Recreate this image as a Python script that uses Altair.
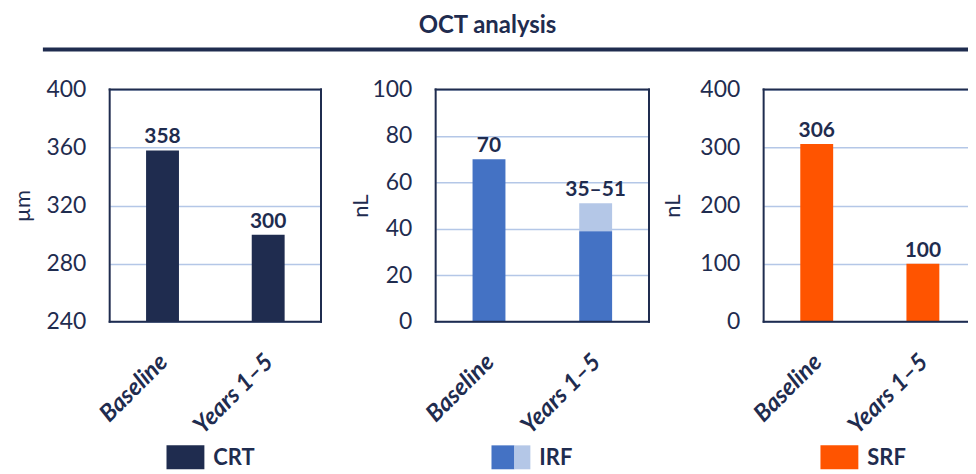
import altair as alt
import pandas as pd

# ---- data ----
categories = ["Baseline", "Years 1–5"]
crt_values = [358, 300]
crt_labels = ["358", "300"]
irf_dark = [70, 39]
irf_light_top = [70, 51]
irf_labels = ["70", "35–51"]
srf_values = [306, 100]
srf_labels = ["306", "100"]

crt_ticks = [240, 280, 320, 360, 400]
irf_ticks = [0, 20, 40, 60, 80, 100]
srf_ticks = [0, 100, 200, 300, 400]

chart_title = "OCT analysis"

NAVY = "#1F2C4F"
IRF_BLUE = "#4472C4"
IRF_LIGHT = "#B4C7E7"
SRF_ORANGE = "#FF5400"
GRID = "#B4C7E7"
FONT = "Lato"
H = 233


def x_enc(xrange=None):
    sc = dict(paddingInner=0, paddingOuter=0)
    if xrange is not None:
        sc["range"] = xrange
    return alt.X(
        "cat:N",
        sort=categories,
        scale=alt.Scale(**sc),
        axis=alt.Axis(
            title=None, labelAngle=-45, labelFont=FONT, labelFontSize=24,
            labelFontWeight="bold", labelFontStyle="italic", labelColor=NAVY,
            ticks=False, domain=False, labelPadding=28, labelOffset=-7,
        ),
    )


def y_enc(field, domain, ticks, title, title_x):
    return alt.Y(
        f"{field}:Q",
        scale=alt.Scale(domain=domain, zero=False, nice=False),
        axis=alt.Axis(
            values=ticks, title=title, titleFont=FONT, titleFontSize=22,
            titleFontWeight="normal", titleColor=NAVY,
            titleX=title_x, titleY=H / 2, titleAngle=270,
            titleAlign="center", titleBaseline="alphabetic",
            labelFont=FONT, labelFontSize=23, labelColor=NAVY, labelPadding=24,
            ticks=False, grid=True, gridColor=GRID, gridWidth=1.5,
            domain=False,
        ),
    )


def bar_text(base):
    return base.mark_text(
        font=FONT, fontSize=21, fontWeight="bold", color=NAVY,
        baseline="alphabetic", dy=-7,
    ).encode(text="label:N")


def frame(width, right_side=True):
    d = alt.Chart(pd.DataFrame({"f": [0]}))
    r = []
    r.append(d.mark_rule(color=NAVY, strokeWidth=2, strokeCap="square").encode(
        x=alt.value(0), x2=alt.value(width), y=alt.value(0)))
    r.append(d.mark_rule(color=NAVY, strokeWidth=2, strokeCap="square").encode(
        x=alt.value(0), x2=alt.value(width), y=alt.value(H)))
    r.append(d.mark_rule(color=NAVY, strokeWidth=2, strokeCap="square").encode(
        x=alt.value(0), y=alt.value(0), y2=alt.value(H)))
    if right_side:
        r.append(d.mark_rule(color=NAVY, strokeWidth=2, strokeCap="square").encode(
            x=alt.value(width), y=alt.value(0), y2=alt.value(H)))
    return r


def legend(name, colors):
    d = alt.Chart(pd.DataFrame({"label": [name]}))
    layers = []
    if len(colors) == 1:
        layers.append(d.mark_rect(color=colors[0]).encode(
            x=alt.value(57), x2=alt.value(95), y=alt.value(357), y2=alt.value(381)))
    else:
        layers.append(d.mark_rect(color=colors[0]).encode(
            x=alt.value(56), x2=alt.value(79), y=alt.value(357), y2=alt.value(381)))
        layers.append(d.mark_rect(color=colors[1]).encode(
            x=alt.value(79), x2=alt.value(95), y=alt.value(357), y2=alt.value(381)))
    layers.append(d.mark_text(
        font=FONT, fontSize=22, fontWeight="bold", color=NAVY,
        align="left", baseline="middle").encode(
        x=alt.value(104), y=alt.value(370), text="label:N"))
    return layers


# ---- panel 1: CRT ----
df1 = pd.DataFrame({"cat": categories, "top": crt_values, "label": crt_labels})
base1 = alt.Chart(df1).encode(
    x=x_enc(), y=y_enc("top", [240, 400], crt_ticks, "µm", -80))
bars1 = base1.mark_bar(size=33, color=NAVY, clip=True)
head = alt.Chart(pd.DataFrame({"t": [chart_title]}))
title_txt = head.mark_text(
    font=FONT, fontSize=24, fontWeight="bold", color=NAVY,
    baseline="alphabetic", align="center").encode(
    x=alt.value(379), y=alt.value(-57), text="t:N")
title_rule = head.mark_rule(color=NAVY, strokeWidth=4).encode(
    x=alt.value(-67), x2=alt.value(866), y=alt.value(-40))
# invisible anchor fixing the top-left corner of the drawing
anchor = head.mark_rule(opacity=0, strokeWidth=1).encode(
    x=alt.value(-102), y=alt.value(-81), y2=alt.value(-71))
p1 = alt.layer(bars1, bar_text(base1), *frame(212), title_rule, title_txt, anchor,
               *legend("CRT", [NAVY])).properties(width=212, height=H)

# ---- panel 2: IRF ----
df2 = pd.DataFrame({"cat": categories, "top": irf_light_top,
                    "low": irf_dark, "label": irf_labels})
ye2 = y_enc("top", [0, 100], irf_ticks, "nL", -68)
base2 = alt.Chart(df2).encode(x=x_enc(), y=ye2)
light2 = base2.mark_bar(size=33, color=IRF_LIGHT).encode(y2="low:Q")
dark2 = base2.mark_bar(size=33, color=IRF_BLUE).encode(
    y=alt.Y("low:Q", scale=alt.Scale(domain=[0, 100], zero=False, nice=False)))
p2 = alt.layer(light2, dark2, bar_text(base2), *frame(214),
               *legend("IRF", [IRF_BLUE, IRF_LIGHT])).properties(width=214, height=H)

# ---- panel 3: SRF ----
df3 = pd.DataFrame({"cat": categories, "top": srf_values, "label": srf_labels})
base3 = alt.Chart(df3).encode(
    x=x_enc(xrange=[0, 213]),
    y=y_enc("top", [0, 400], srf_ticks, "nL", -84))
bars3 = base3.mark_bar(size=33, color=SRF_ORANGE)
p3 = alt.layer(bars3, bar_text(base3), *frame(210, right_side=False),
               *legend("SRF", [SRF_ORANGE])).properties(width=210, height=H)

chart = alt.hconcat(p1, p2, p3, spacing=115, bounds="flush").properties(
    padding={"left": 0, "top": 0, "right": -8, "bottom": 0},
    background="white",
).configure_view(stroke="transparent", strokeWidth=0)

chart.save("out.html", embed_options={"renderer": "svg", "actions": False})
